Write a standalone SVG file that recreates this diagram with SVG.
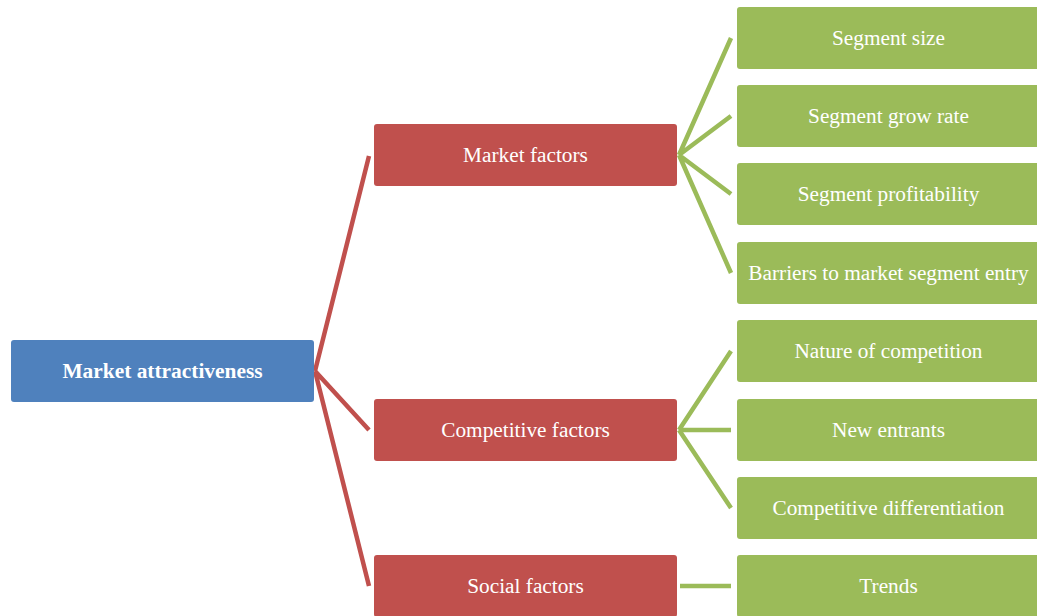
<svg xmlns="http://www.w3.org/2000/svg" width="1037" height="616" viewBox="0 0 1037 616">
<style>
.blue{fill:#4F81BD;}
.red{fill:#C0504D;}
.green{fill:#9BBB59;}
.t{font-family:"Liberation Serif","Times New Roman",serif;font-size:21.3px;fill:#FFFFFF;text-anchor:middle;}
.b{font-weight:bold;font-size:21.4px;}
.cr{stroke:#C0504D;stroke-width:4.5;fill:none;}
.cg{stroke:#9BBB59;stroke-width:4.5;fill:none;}
</style>
<rect width="1037" height="616" fill="#FFFFFF"/>
<g id="connectors">
<path class="cr" d="M315,371 L369,156 M315,371 L369,430 M315,371 L369,586"/>
<path class="cg" d="M679,155 L731,38 M679,155 L731,116 M679,155 L731,194 M679,155 L731,273"/>
<path class="cg" d="M679,430 L731,351 M679,430 L731,430 M679,430 L731,508"/>
<path class="cg" d="M680,586 L731,586"/>
</g>
<g id="n-market-attractiveness"><rect class="blue" x="11" y="340" width="303" height="62" rx="3"/><text class="t b" x="162.5" y="378">Market attractiveness</text></g>
<g id="n-market-factors"><rect class="red" x="374" y="124" width="303" height="62" rx="3"/><text class="t" x="525.5" y="162">Market factors</text></g>
<g id="n-competitive-factors"><rect class="red" x="374" y="399" width="303" height="62" rx="3"/><text class="t" x="525.5" y="437">Competitive factors</text></g>
<g id="n-social-factors"><rect class="red" x="374" y="555" width="303" height="62" rx="3"/><text class="t" x="525.5" y="593">Social factors</text></g>
<g id="n-segment-size"><rect class="green" x="737" y="7" width="303" height="62" rx="3"/><text class="t" x="888.5" y="45">Segment size</text></g>
<g id="n-segment-grow-rate"><rect class="green" x="737" y="85" width="303" height="62" rx="3"/><text class="t" x="888.5" y="123">Segment grow rate</text></g>
<g id="n-segment-profitability"><rect class="green" x="737" y="163" width="303" height="62" rx="3"/><text class="t" x="888.5" y="201">Segment profitability</text></g>
<g id="n-barriers"><rect class="green" x="737" y="242" width="303" height="62" rx="3"/><text class="t" x="888.5" y="280">Barriers to market segment entry</text></g>
<g id="n-nature-of-competition"><rect class="green" x="737" y="320" width="303" height="62" rx="3"/><text class="t" x="888.5" y="358">Nature of competition</text></g>
<g id="n-new-entrants"><rect class="green" x="737" y="399" width="303" height="62" rx="3"/><text class="t" x="888.5" y="437">New entrants</text></g>
<g id="n-competitive-differentiation"><rect class="green" x="737" y="477" width="303" height="62" rx="3"/><text class="t" x="888.5" y="515">Competitive differentiation</text></g>
<g id="n-trends"><rect class="green" x="737" y="555" width="303" height="62" rx="3"/><text class="t" x="888.5" y="593">Trends</text></g>
</svg>
